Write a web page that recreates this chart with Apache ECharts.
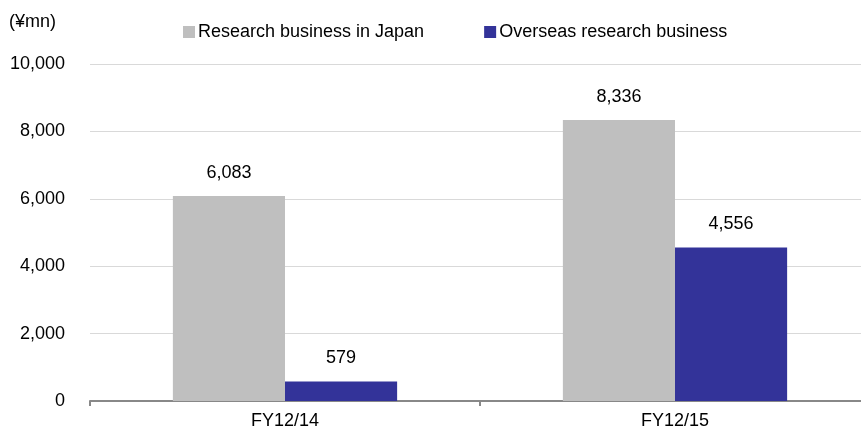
<!DOCTYPE html>
<html><head><meta charset="utf-8">
<script src="https://cdn.jsdelivr.net/npm/echarts@6/dist/echarts.min.js"></script>
<style>html,body{margin:0;padding:0;background:#fff}#c{width:861px;height:433px}</style>
</head><body><div id="c"></div>
<script>
const categories = ['FY12/14', 'FY12/15'];
const seriesNames = ['Research business in Japan', 'Overseas research business'];
const japanValues = [6083, 8336];
const overseasValues = [579, 4556];
const unitLabel = '(¥mn)';
const FONT = '"Liberation Sans", Arial, sans-serif';
const chart = echarts.init(document.getElementById('c'));
const lbl = {show: true, position: 'top', distance: 14, color: '#000', fontSize: 18, fontFamily: FONT,
  formatter: p => p.value.toLocaleString('en-US')};
chart.setOption({
  animation: false,
  textStyle: {fontFamily: FONT},
  graphic: [{type: 'text', left: 9, top: 13, style: {text: unitLabel, fontSize: 18, fontFamily: FONT, fill: '#000'}}],
  legend: {top: 18, left: 178, itemWidth: 12, itemHeight: 12, itemGap: 60, icon: 'rect',
    textStyle: {fontSize: 18, fontFamily: FONT, color: '#000', padding: [0,0,0,-2]}, data: seriesNames},
  grid: {left: 90, top: 64, width: 780, bottom: 32, containLabel: false, outerBoundsMode: 'none'},
  xAxis: {type: 'category', data: categories,
    axisLine: {lineStyle: {color: '#888', width: 2}},
    axisTick: {show: true, length: 5, lineStyle: {color: '#888', width: 2}},
    axisLabel: {color: '#000', fontSize: 18, fontFamily: FONT, margin: 11}},
  yAxis: {type: 'value', min: 0, max: 10000, interval: 2000,
    axisLine: {show: false}, axisTick: {show: false},
    splitLine: {lineStyle: {color: '#D9D9D9', width: 1}},
    axisLabel: {color: '#000', fontSize: 18, fontFamily: FONT, margin: 25,
      formatter: v => v.toLocaleString('en-US')}},
  series: [
    {name: seriesNames[0], type: 'bar', data: japanValues, itemStyle: {color: '#BFBFBF'},
      barGap: '0%', barCategoryGap: '42.5%', label: lbl},
    {name: seriesNames[1], type: 'bar', data: overseasValues, itemStyle: {color: '#333399'},
      barGap: '0%', barCategoryGap: '42.5%', label: lbl}
  ]
});
</script></body></html>
